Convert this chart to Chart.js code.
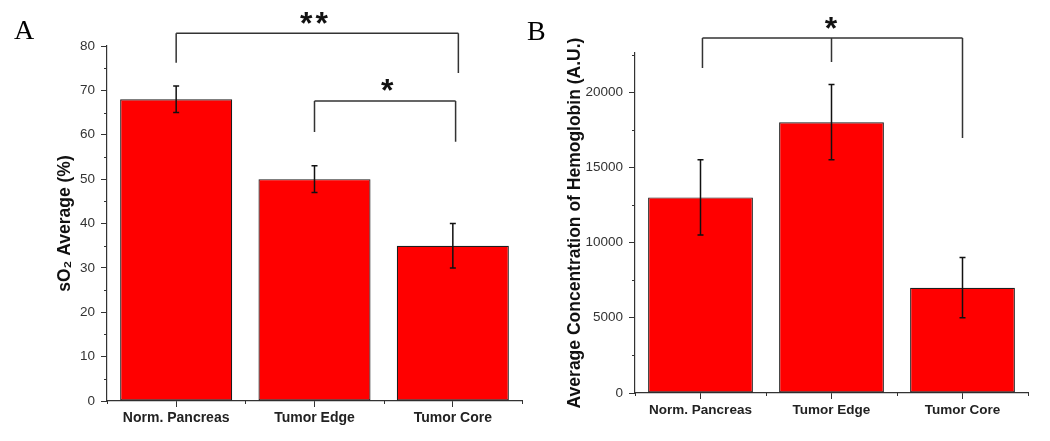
<!DOCTYPE html>
<html>
<head>
<meta charset="utf-8">
<script src="https://cdn.jsdelivr.net/npm/chart.js@4/dist/chart.umd.min.js"></script>
<style>
  body { margin: 0; background: #fff; }
  #wrap { position: relative; width: 1050px; height: 441px; }
  canvas { position: absolute; top: 0; }
</style>
</head>
<body>
<div id="wrap">
  <canvas id="chartA" width="525" height="441" style="left:0"></canvas>
  <canvas id="chartB" width="525" height="441" style="left:525px"></canvas>
</div>
<script>
const categories = ['Norm. Pancreas', 'Tumor Edge', 'Tumor Core'];

// panel A: sO2 average (%)
const so2Values = [68, 50, 35];
const so2Errors = [3, 3, 5];
const so2Ticks = [0, 10, 20, 30, 40, 50, 60, 70, 80];

// panel B: hemoglobin concentration (A.U.)
const hbValues = [13000, 18000, 7000];
const hbErrors = [2500, 2500, 2000];
const hbTicks = [0, 5000, 10000, 15000, 20000];

// significance brackets: legs are [category, value where the leg ends]
const so2Brackets = [
  { top: 82.9, legs: [[0, 76.2], [2.04, 73.9]], label: '**', at: [1, 86.3] },
  { top: 67.6, legs: [[1, 60.6], [2.02, 58.4]], label: '*', at: [1.53, 71.2] }
];
const hbBrackets = [
  { top: 23600, legs: [[0.015, 21600], [1, 22000], [2, 16950]], label: '*', at: [1, 24600] }
];

const FONT = '"Liberation Sans", Arial, sans-serif';

const decor = {
  id: 'decor',
  afterDraw(chart, args, o) {
    const ctx = chart.ctx;
    const x = chart.scales.x, y = chart.scales.y;
    const ds = chart.data.datasets[0].data;
    ctx.save();

    // minor ticks
    ctx.strokeStyle = '#333';
    ctx.lineWidth = 1;
    ctx.beginPath();
    o.minorY.forEach(v => {
      const py = Math.round(y.getPixelForValue(v)) + 0.5;
      ctx.moveTo(x.left - 3, py); ctx.lineTo(x.left, py);
    });
    [-0.5, 0.5, 1.5, 2.5].forEach(c => {
      const px = Math.round(x.getPixelForValue(c)) + 0.5;
      ctx.moveTo(px, y.bottom); ctx.lineTo(px, y.bottom + 3);
    });
    ctx.stroke();

    // error bars
    ctx.strokeStyle = '#111';
    ctx.lineWidth = 1.5;
    o.errors.forEach((e, i) => {
      const px = x.getPixelForValue(i);
      const t = y.getPixelForValue(ds[i] + e), b = y.getPixelForValue(ds[i] - e);
      ctx.beginPath();
      ctx.moveTo(px, t); ctx.lineTo(px, b);
      ctx.moveTo(px - 3, t); ctx.lineTo(px + 3, t);
      ctx.moveTo(px - 3, b); ctx.lineTo(px + 3, b);
      ctx.stroke();
    });

    // brackets
    ctx.strokeStyle = '#333';
    ctx.lineWidth = 1.5;
    ctx.fillStyle = '#111';
    ctx.textAlign = 'center';
    ctx.textBaseline = 'middle';
    o.brackets.forEach(br => {
      const ty = y.getPixelForValue(br.top);
      const xs = br.legs.map(l => x.getPixelForValue(l[0]));
      ctx.beginPath();
      ctx.moveTo(xs[0], ty); ctx.lineTo(xs[xs.length - 1], ty);
      br.legs.forEach((l, i) => {
        ctx.moveTo(xs[i], ty); ctx.lineTo(xs[i], y.getPixelForValue(l[1]));
      });
      ctx.stroke();
      ctx.font = 'bold 32px ' + FONT;
      ctx.letterSpacing = '3px';
      ctx.fillText(br.label, x.getPixelForValue(br.at[0]) + 1, y.getPixelForValue(br.at[1]) + 7);
      ctx.letterSpacing = '0px';
    });

    // panel letter
    ctx.font = '28px "Liberation Serif", "Times New Roman", serif';
    ctx.textAlign = 'left';
    ctx.textBaseline = 'alphabetic';
    ctx.fillStyle = '#000';
    ctx.fillText(o.letter, o.letterPos[0], o.letterPos[1]);
    ctx.restore();
  }
};

function makePanel(id, values, ticks, o) {
  return new Chart(document.getElementById(id), {
    type: 'bar',
    data: {
      labels: categories,
      datasets: [{
        data: values,
        backgroundColor: '#ff0000',
        borderColor: '#1e1e1e',
        borderWidth: 1.2,
        borderSkipped: false,
        categoryPercentage: 1,
        barPercentage: o.barPct
      }]
    },
    options: {
      responsive: false,
      animation: false,
      devicePixelRatio: 1,
      layout: { padding: o.padding },
      scales: {
        x: {
          afterFit: s => { s.height = o.xHeight; },
          grid: { drawOnChartArea: false, offset: false, tickLength: 6, color: '#333', lineWidth: 1 },
          border: { color: '#333', width: 1.2 },
          ticks: { color: '#222', padding: 3, font: { family: FONT, size: o.xFont, weight: 'bold' } }
        },
        y: {
          min: 0,
          max: o.max,
          afterFit: s => { s.width = o.yWidth; },
          afterBuildTicks: s => { s.ticks = ticks.map(v => ({ value: v })); },
          grid: { drawOnChartArea: false, tickLength: 6, color: '#333', lineWidth: 1 },
          border: { color: '#333', width: 1.2 },
          ticks: { color: '#333', padding: 6, callback: v => String(v), font: { family: FONT, size: 13.5 } },
          title: { display: true, text: o.title, color: '#111', padding: { top: 4, bottom: 4 },
                   font: { family: FONT, size: o.titleSize, weight: 'bold' } }
        }
      },
      plugins: {
        legend: { display: false },
        tooltip: { enabled: false },
        decor: { errors: o.errors, brackets: o.brackets, minorY: o.minorY, letter: o.letter, letterPos: o.letterPos }
      }
    },
    plugins: [decor]
  });
}

makePanel('chartA', so2Values, so2Ticks, {
  max: 80, barPct: 0.81, errors: so2Errors, brackets: so2Brackets,
  minorY: [5, 15, 25, 35, 45, 55, 65, 75],
  padding: { left: 50.5, right: 3, top: 46, bottom: 0 }, yWidth: 56.5, xHeight: 40, xFont: 14,
  title: 'sO\u2082 Average (%)', titleSize: 17.5, letter: 'A', letterPos: [14, 39]
});

makePanel('chartB', hbValues, hbTicks, {
  max: 22600, barPct: 0.80, errors: hbErrors, brackets: hbBrackets,
  minorY: [2500, 7500, 12500, 17500, 22500],
  padding: { left: 35.5, right: 22, top: 53, bottom: 0 }, yWidth: 74.5, xHeight: 48, xFont: 13.5,
  title: 'Average Concentration of Hemoglobin (A.U.)', titleSize: 17.5, letter: 'B', letterPos: [2, 40]
});
</script>
</body>
</html>
